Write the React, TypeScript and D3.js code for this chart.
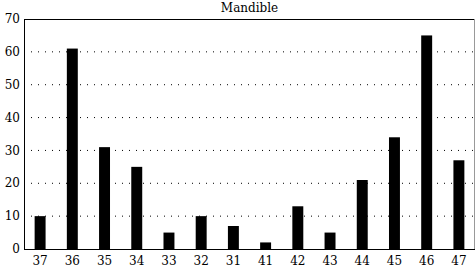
import React from "react";
import * as d3 from "d3";

const categories = ["37", "36", "35", "34", "33", "32", "31", "41", "42", "43", "44", "45", "46", "47"];
const values = [10, 61, 31, 25, 5, 10, 7, 2, 13, 5, 21, 34, 65, 27];
const yTicks = [0, 10, 20, 30, 40, 50, 60, 70];
const title = "Mandible";

export default function App() {
  const W = 476, H = 268;
  const left = 24, right = 475, top = 19, bottom = 249;
  const x = d3.scaleBand<string>().domain(categories).range([left, right]).paddingInner(0.66).paddingOuter(0.33);
  const y = d3.scaleLinear().domain([0, 70]).range([bottom, top]);
  const font = "'DejaVu Serif', 'Liberation Serif', serif";
  return (
    <svg width={W} height={H} style={{ position: "absolute", left: 0, top: 0 }} fontFamily={font}>
      <rect x={0} y={0} width={W} height={H} fill="#fff" />
      {yTicks.filter(t => t > 0 && t < 70).map(t => (
        <line key={t} x1={left} x2={right} y1={y(t)} y2={y(t)} stroke="#000" strokeWidth={1} strokeDasharray="1,6" />
      ))}
      {categories.map((c, i) => (
        <rect key={c} x={x(c)} y={y(values[i])} width={x.bandwidth()} height={bottom - y(values[i])} fill="#000" />
      ))}
      <line x1={left} x2={right} y1={top + 0.5} y2={top + 0.5} stroke="#000" />
      <line x1={right - 0.5} x2={right - 0.5} y1={top} y2={bottom} stroke="#999" />
      <line x1={left + 0.5} x2={left + 0.5} y1={top} y2={bottom} stroke="#000" />
      <line x1={left} x2={right} y1={bottom + 0.5} y2={bottom + 0.5} stroke="#000" />
      {yTicks.map(t => (
        <text key={t} x={20} y={y(t)} dy="0.35em" textAnchor="end" fontSize={12}>{t}</text>
      ))}
      {categories.map(c => (
        <text key={c} x={x(c)! + x.bandwidth() / 2} y={265} textAnchor="middle" fontSize={12}>{c}</text>
      ))}
      <text x={(left + right) / 2} y={12} textAnchor="middle" fontSize={12}>{title}</text>
    </svg>
  );
}
